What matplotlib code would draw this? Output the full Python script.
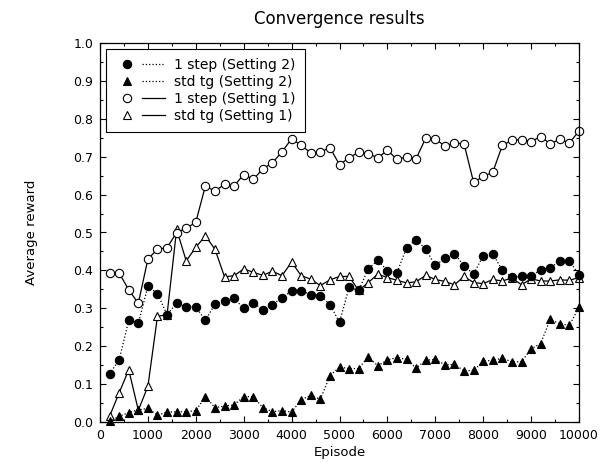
import matplotlib
matplotlib.use("Agg")
import matplotlib.pyplot as plt
from matplotlib.lines import Line2D
from matplotlib.legend_handler import HandlerTuple
from matplotlib.ticker import MultipleLocator

episodes = list(range(200, 10001, 200))

# 1 step (Setting 2) - filled circles, dotted
step_s2 = [0.127, 0.164, 0.268, 0.260, 0.358, 0.339, 0.283, 0.314, 0.304, 0.304,
           0.268, 0.311, 0.320, 0.326, 0.300, 0.315, 0.295, 0.310, 0.328, 0.346,
           0.346, 0.336, 0.333, 0.310, 0.263, 0.355, 0.347, 0.404, 0.427, 0.399,
           0.394, 0.460, 0.481, 0.456, 0.413, 0.432, 0.444, 0.412, 0.390, 0.439,
           0.444, 0.400, 0.383, 0.384, 0.384, 0.402, 0.407, 0.425, 0.425, 0.388]

# std tg (Setting 2) - filled triangles, dotted
stdtg_s2 = [0.002, 0.015, 0.025, 0.032, 0.036, 0.018, 0.026, 0.027, 0.027, 0.030,
            0.067, 0.038, 0.042, 0.045, 0.067, 0.067, 0.038, 0.027, 0.030, 0.026,
            0.059, 0.070, 0.060, 0.122, 0.145, 0.141, 0.141, 0.172, 0.148, 0.164,
            0.170, 0.165, 0.142, 0.163, 0.165, 0.151, 0.152, 0.135, 0.136, 0.160,
            0.163, 0.168, 0.159, 0.159, 0.193, 0.207, 0.271, 0.259, 0.255, 0.303]

# 1 step (Setting 1) - open circles, solid
step_s1 = [0.393, 0.393, 0.349, 0.313, 0.430, 0.456, 0.460, 0.500, 0.511, 0.527,
           0.623, 0.609, 0.627, 0.623, 0.653, 0.640, 0.668, 0.684, 0.713, 0.747,
           0.730, 0.710, 0.712, 0.724, 0.679, 0.697, 0.712, 0.708, 0.697, 0.717,
           0.693, 0.699, 0.695, 0.749, 0.747, 0.728, 0.736, 0.734, 0.632, 0.648,
           0.659, 0.730, 0.743, 0.745, 0.740, 0.753, 0.734, 0.746, 0.736, 0.768]

# std tg (Setting 1) - open triangles, solid
stdtg_s1 = [0.015, 0.077, 0.138, 0.031, 0.094, 0.279, 0.283, 0.508, 0.425, 0.461,
            0.491, 0.456, 0.383, 0.386, 0.404, 0.395, 0.387, 0.398, 0.386, 0.422,
            0.386, 0.377, 0.360, 0.375, 0.384, 0.384, 0.347, 0.368, 0.390, 0.381,
            0.374, 0.367, 0.370, 0.387, 0.376, 0.371, 0.362, 0.384, 0.368, 0.365,
            0.376, 0.372, 0.380, 0.362, 0.378, 0.372, 0.372, 0.375, 0.374, 0.381]

labels = ["1 step (Setting 2)", "std tg (Setting 2)",
          "1 step (Setting 1)", "std tg (Setting 1)"]

plt.rcParams['font.family'] = ['DejaVu Sans']

fig = plt.figure(figsize=(6, 4.62), dpi=100)
ax = fig.add_axes([100 / 600, 1 - 422 / 462, 479 / 600, 379 / 462])

# (values, marker, face, linestyle, size)
styles = [('o', 'black', ':', 6.0), ('^', 'black', ':', 5.5),
          ('o', 'white', '-', 6.0), ('^', 'white', '-', 6.0)]
data = [step_s2, stdtg_s2, step_s1, stdtg_s1]

for i in [3, 2, 1, 0]:
    mk, fc, ls, ms = styles[i]
    ax.plot(episodes, data[i], color='black', linestyle=ls, linewidth=0.9,
            marker=mk, markersize=ms, markerfacecolor=fc,
            markeredgecolor='black', markeredgewidth=0.8, clip_on=False)

ax.set_xlim(0, 10000)
ax.set_ylim(0, 1.0)
ax.xaxis.set_major_locator(MultipleLocator(1000))
ax.xaxis.set_minor_locator(MultipleLocator(500))
ax.yaxis.set_major_locator(MultipleLocator(0.1))
ax.yaxis.set_minor_locator(MultipleLocator(0.05))
ax.yaxis.set_major_formatter(plt.FormatStrFormatter('%.1f'))
ax.tick_params(which='both', direction='in', top=True, right=True,
               labelsize=9, width=0.8)
ax.tick_params(which='major', length=4.5, pad=5)
ax.tick_params(which='minor', length=2.5)
for sp in ax.spines.values():
    sp.set_linewidth(0.9)

ax.set_title("Convergence results", fontsize=12, pad=14)
ax.set_xlabel("Episode", fontsize=9.5, labelpad=3)
ax.set_ylabel("Average reward", fontsize=9.5)
ax.yaxis.set_label_coords(-0.13, 0.5)

handles = []
for mk, fc, ls, ms in styles:
    m = Line2D([], [], linestyle='none', marker=mk, markersize=ms,
               markerfacecolor=fc, markeredgecolor='black', markeredgewidth=0.8)
    l = Line2D([], [], color='black', linestyle=ls, linewidth=0.9)
    handles.append((m, l))

leg = ax.legend(handles, labels, loc='upper left',
                handler_map={tuple: HandlerTuple(ndivide=None, pad=0.2)},
                handlelength=3.6, handletextpad=0.6, fontsize=10,
                fancybox=False, edgecolor='black', framealpha=1,
                borderpad=0.7, labelspacing=0.2, borderaxespad=0.4)
leg.get_frame().set_linewidth(0.8)

fig.savefig("out.png", dpi=100)
